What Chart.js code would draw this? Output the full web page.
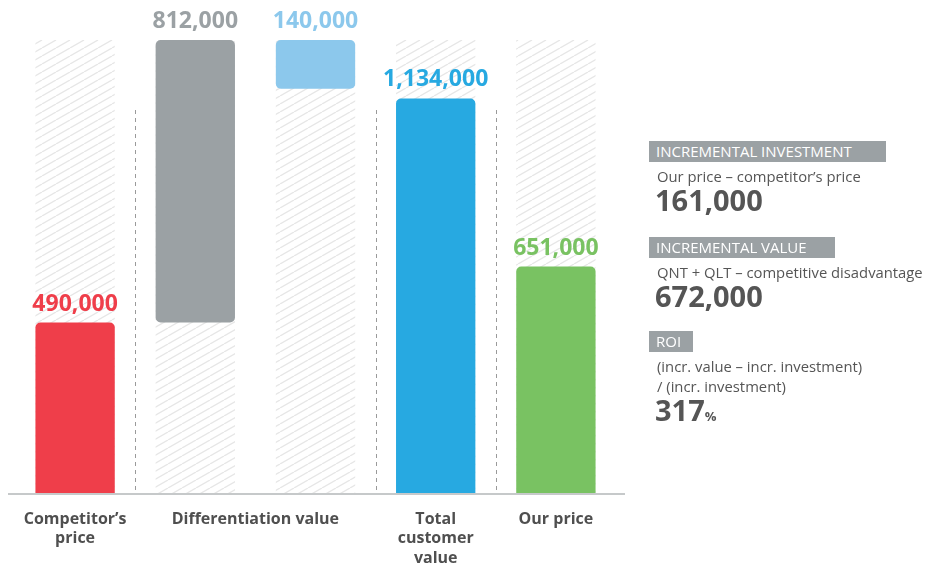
<!DOCTYPE html>
<html>
<head>
<meta charset="utf-8">
<script src="https://cdn.jsdelivr.net/npm/chart.js@4/dist/chart.umd.min.js"></script>
<style>
  body { margin: 0; background: #fff; font-family: "Open Sans", sans-serif; }
  #wrap { position: relative; width: 927px; height: 564px; }
  #myChart { position: absolute; left: 0; top: 0; }
  .tag { position: absolute; left: 649px; height: 21px; line-height: 21px; background: #9ba1a4; color: #fff; font-size: 15px; padding-left: 7px; box-sizing: border-box; white-space: nowrap; }
  .txt { position: absolute; left: 657px; line-height: 20px; font-size: 14.8px; color: #555; white-space: nowrap; }
  .big { position: absolute; left: 655px; line-height: 30px; font-size: 29px; font-weight: bold; color: #555; }
  .big small { font-size: 13px; font-weight: bold; }
</style>
</head>
<body>
<div id="wrap">
  <canvas id="myChart" width="927" height="564"></canvas>
  <div id="panel"></div>
</div>
<script>
// data
const categories = ['Competitor’s price', 'Differentiation value', 'Differentiation value', 'Total customer value', 'Our price'];
const barStart = [0, 490000, 1162000, 0, 0];
const barEnd = [490000, 1302000, 1302000, 1134000, 651000];
const barColors = ['#ef3e4a', '#9ba1a4', '#8cc8ec', '#27a9e1', '#79c262'];
const hatchTop = 1302000;
const axisLabels = [['Competitor’s', 'price'], ['Differentiation value'], ['Total', 'customer', 'value'], ['Our price']];
const axisSpans = [1, 2, 1, 1];

// side panel
const panelTags = ['INCREMENTAL INVESTMENT', 'INCREMENTAL VALUE', 'ROI'];
const panelNotes = [['Our price – competitor’s price'], ['QNT + QLT – competitive disadvantage'], ['(incr. value – incr. investment)', '/ (incr. investment)']];
const panelValues = ['161,000', '672,000', '317'];
const panelUnits = ['', '', '%'];

const tagTops = [141, 237, 331];
const tagWidths = [237, 186, 44];
const panel = document.getElementById('panel');
panelTags.forEach((t, i) => {
  let top = tagTops[i];
  let d = document.createElement('div');
  d.className = 'tag';
  d.style.top = top + 'px';
  d.style.width = tagWidths[i] + 'px';
  d.textContent = t;
  panel.appendChild(d);
  let y = top + 25;
  panelNotes[i].forEach(n => {
    let p = document.createElement('div');
    p.className = 'txt';
    p.style.top = y + 'px';
    p.textContent = n;
    panel.appendChild(p);
    y += 20;
  });
  let b = document.createElement('div');
  b.className = 'big';
  b.style.top = (y - 1) + 'px';
  b.innerHTML = panelValues[i] + (panelUnits[i] ? '<small>' + panelUnits[i] + '</small>' : '');
  panel.appendChild(b);
});

// hatch pattern
function makeHatch() {
  const w = 14, h = 8;
  const c = document.createElement('canvas');
  c.width = w; c.height = h;
  const g = c.getContext('2d');
  g.strokeStyle = '#e6e6e6';
  g.lineWidth = 1.3;
  for (let dx = -w; dx <= w; dx += w) {
    g.beginPath();
    g.moveTo(dx, h);
    g.lineTo(dx + w, 0);
    g.stroke();
  }
  return g.createPattern(c, 'repeat');
}

const decor = {
  id: 'decor',
  beforeDatasetsDraw(chart) {
    const ctx = chart.ctx;
    const x = chart.scales.x, y = chart.scales.y;
    const half = (x.getPixelForValue(1) - x.getPixelForValue(0)) / 2;
    ctx.save();
    ctx.strokeStyle = '#9a9a9a';
    ctx.lineWidth = 1;
    ctx.setLineDash([4, 4]);
    let idx = 0;
    axisSpans.forEach((s, i) => {
      idx += s;
      if (i < axisSpans.length - 1) {
        const px = Math.round(x.getPixelForValue(idx) - half) + 0.5;
        ctx.beginPath();
        ctx.moveTo(px, 110);
        ctx.lineTo(px, y.getPixelForValue(0));
        ctx.stroke();
      }
    });
    ctx.restore();
  },
  afterDatasetsDraw(chart) {
    const ctx = chart.ctx;
    const x = chart.scales.x, y = chart.scales.y;
    const base = y.getPixelForValue(0);
    ctx.save();
    // baseline
    ctx.strokeStyle = '#c6c9ca';
    ctx.lineWidth = 2;
    ctx.beginPath();
    ctx.moveTo(8, base + 1);
    ctx.lineTo(625, base + 1);
    ctx.stroke();
    // value labels
    ctx.font = 'bold 23px "Open Sans"';
    ctx.textAlign = 'center';
    ctx.textBaseline = 'alphabetic';
    categories.forEach((c, i) => {
      const v = barEnd[i] - barStart[i];
      ctx.fillStyle = barColors[i];
      ctx.fillText(v.toLocaleString('en-US'), x.getPixelForValue(i), y.getPixelForValue(barEnd[i]) - 12);
    });
    // category labels
    ctx.font = 'bold 16px "Open Sans"';
    ctx.fillStyle = '#4f4f4f';
    ctx.textBaseline = 'middle';
    let idx = 0;
    axisLabels.forEach((lines, i) => {
      const cx = (x.getPixelForValue(idx) + x.getPixelForValue(idx + axisSpans[i] - 1)) / 2;
      lines.forEach((l, j) => ctx.fillText(l, cx, 519 + j * 19.5));
      idx += axisSpans[i];
    });
    ctx.restore();
  }
};

const data = {
  labels: categories,
  datasets: [{
    data: categories.map((c, i) => [barStart[i], barEnd[i]]),
    backgroundColor: barColors,
    borderRadius: 5,
    borderSkipped: ctx => barStart[ctx.dataIndex] > 0 ? false : 'start'
  }, {
    data: categories.map(() => [0, hatchTop]),
    backgroundColor: makeHatch(),
    borderRadius: 0
  }]
};

const config = {
  type: 'bar',
  data,
  options: {
    responsive: false,
    animation: false,
    layout: { padding: { left: 15, right: 311, top: 0, bottom: 71 } },
    datasets: { bar: { grouped: false, categoryPercentage: 1, barPercentage: 0.66 } },
    plugins: { legend: { display: false }, tooltip: { enabled: false } },
    scales: {
      x: { display: false },
      y: { display: false, min: 0, max: 1417000 }
    }
  },
  plugins: [decor]
};

const myChart = new Chart(document.getElementById('myChart'), config);
</script>
</body>
</html>
